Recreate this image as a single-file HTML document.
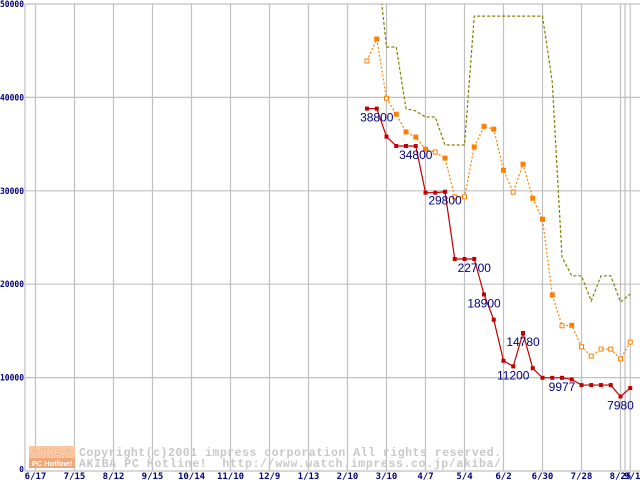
<!DOCTYPE html>
<html><head><meta charset="utf-8"><style>
html,body{margin:0;padding:0;background:#fff;}
svg{display:block;font-family:"Liberation Sans",sans-serif;}
</style></head><body>
<svg id="chart" width="640" height="480" viewBox="0 0 640 480" xmlns="http://www.w3.org/2000/svg">
<defs><clipPath id="plotclip"><rect x="25" y="4" width="615" height="467"/></clipPath></defs>
<g id="grid"></g>
<g id="yaxis"></g>
<g id="xaxis"></g>
<g id="watermark">
  <rect x="29" y="446" width="46" height="12" fill="#f8c8a0"/>
  <rect x="29" y="458" width="46" height="10" fill="#f0a878"/>
  <text x="52" y="456" font-size="10" font-weight="bold" fill="#fff" stroke="#f0a070" stroke-width="0.6" text-anchor="middle" letter-spacing="2">AKIBA</text>
  <text x="52" y="466" font-size="7.5" font-weight="bold" fill="#fff" text-anchor="middle">PC Hotline!</text>
  <text x="79" y="456" font-family="Liberation Mono, monospace" font-size="11.5" font-weight="bold" fill="#c8c8c8" textLength="422">Copyright(c)2001 impress corporation All rights reserved.</text>
  <text x="79" y="467" font-family="Liberation Mono, monospace" font-size="11.5" font-weight="bold" fill="#c8c8c8" textLength="422" xml:space="preserve">AKIBA PC Hotline!  http://www.watch.impress.co.jp/akiba/</text>
</g>
<g id="series" clip-path="url(#plotclip)"></g>
<g id="labels"></g>
</svg>
<script>
const xTickLabels = ["6/17","7/15","8/12","9/15","10/14","11/10","12/9","1/13","2/10","3/10","4/7","5/4","6/2","6/30","7/28","8/25"];
const xTickIndex = [0,4,8,12,16,20,24,28,32,36,40,44,48,52,56,60];
const lastLabel = "9/1";
const lastLabelIndex = 61;
const yTicks = [0,10000,20000,30000,40000,50000];
const redStart = 34;
const redValues = [38800,38800,35800,34800,34800,34800,29800,29800,29900,22700,22700,22700,18900,16200,11800,11200,14780,11000,9977,9977,9977,9800,9200,9200,9200,9200,7980,8880];
const orangeStart = 34;
const orangeValues = [43900,46250,39900,38200,36300,35750,34450,34150,33500,29350,29350,34700,36900,36600,32200,29850,32850,29200,26950,18850,15550,15600,13300,12300,13050,13050,12000,13800];
const orangeHollow = [1,0,1,0,0,0,0,1,0,1,1,0,0,0,0,1,0,0,0,0,1,0,1,1,1,1,1,1];
const oliveStart = 35;
const oliveValues = [55000,45400,45400,38800,38550,37900,37900,34900,34900,34900,48700,48700,48700,48700,48700,48700,48700,48700,41650,22900,20900,20900,18200,20900,20900,18100,18950];
const labelIdx = [35,39,42,45,46,50,49,54,60];
const labelText = ["38800","34800","29800","22700","18900","14780","11200","9977","7980"];

const NS="http://www.w3.org/2000/svg";
const xs = i => 35.5 + 9.75*i;
const ys = v => 471 - v*0.00934;
function mk(tag, attrs, parent){const e=document.createElementNS(NS,tag);for(const k in attrs)e.setAttribute(k,attrs[k]);parent.appendChild(e);return e;}
const grid=document.getElementById('grid'), yaxis=document.getElementById('yaxis'), xaxis=document.getElementById('xaxis'), series=document.getElementById('series'), labels=document.getElementById('labels');

yTicks.forEach(v=>{
  const y=ys(v);
  if(v>0){const l=mk('line',{x1:25,x2:640,y1:y,y2:y,stroke:'#c0c0c0','stroke-width':1.2},grid);
  
  }
  const attrs={x:v===0?24:0,y:v===0?472:y+3,'font-size':v===0?8:9,'font-weight':'bold',fill:'#000080','text-anchor':v===0?'end':'start','font-family':'DejaVu Sans Mono, monospace'};
  if(v>0){attrs.textLength=24;attrs.lengthAdjust='spacingAndGlyphs';}
  const t=mk('text',attrs,yaxis);
  t.textContent=String(v);
  
  
});
const ax=mk('line',{x1:25,x2:25,y1:4,y2:471,stroke:'#c0c0c0','stroke-width':1.2},grid);


const bx=mk('line',{x1:25,x2:640,y1:471,y2:471,stroke:'#c0c0c0','stroke-width':1.2},grid);


xTickIndex.concat([lastLabelIndex]).forEach((i,k)=>{
  const x=xs(i);
  const l=mk('line',{x1:x,x2:x,y1:4,y2:471,stroke:'#c0c0c0','stroke-width':1.2},grid);
  
  
  const t=mk('text',{x:x+(k===xTickIndex.length?2:0),y:479,'font-size':9,'font-weight':'bold',fill:'#000080','text-anchor':'middle','font-family':'DejaVu Sans Mono, monospace'},xaxis);
  t.textContent=k<xTickLabels.length?xTickLabels[k]:lastLabel;
  
  
});
const r=mk('line',{x1:625,x2:625,y1:4,y2:471,stroke:'#c0c0c0','stroke-width':1.2},grid);



function pts(start,vals){return vals.map((v,j)=>xs(start+j)+','+ys(v)).join(' ');}
const olive=mk('polyline',{points:pts(oliveStart,oliveValues),fill:'none',stroke:'#808000','stroke-width':1.2,'stroke-dasharray':'3,2'},series);


const orange=mk('polyline',{points:pts(orangeStart,orangeValues),fill:'none',stroke:'#ff8000','stroke-width':1.2,'stroke-dasharray':'2,2'},series);


orangeValues.forEach((v,j)=>{
  const h=orangeHollow[j];
  const m=mk('rect',{x:xs(orangeStart+j)-2,y:ys(v)-2,width:4,height:4,fill:h?'#fff':'#ff8000',stroke:'#ff8000','stroke-width':1},series);
  
  
});
const red=mk('polyline',{points:pts(redStart,redValues),fill:'none',stroke:'#c00000','stroke-width':1.2},series);


redValues.forEach((v,j)=>{
  const m=mk('rect',{x:xs(redStart+j)-2,y:ys(v)-2,width:4,height:4,fill:'#c00000'},series);
  
  
});
labelIdx.forEach((i,k)=>{
  const v=redValues[i-redStart];
  const t=mk('text',{x:xs(i),y:ys(v)+13,'font-size':12,fill:'#000080','text-anchor':'middle'},labels);
  t.textContent=labelText[k];
  
  
});
</script>
</body></html>
